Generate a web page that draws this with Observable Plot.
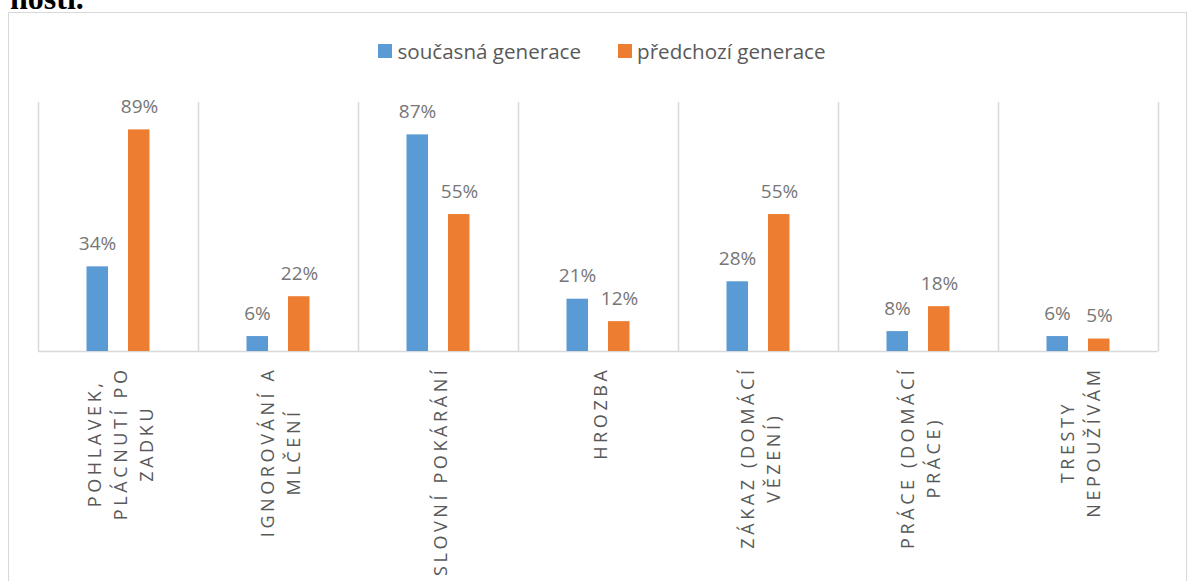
<!DOCTYPE html>
<html>
<head>
<meta charset="utf-8">
<script src="https://cdn.jsdelivr.net/npm/d3@7"></script>
<script src="https://cdn.jsdelivr.net/npm/@observablehq/plot@0.6"></script>
<style>
  html, body { margin: 0; padding: 0; background: #fff; overflow: hidden; width: 1188px; height: 581px; }
  #title { position: absolute; left: 10px; top: -17px; font: bold 32px "Liberation Serif", serif; line-height: 30px; color: #000; }
  #frame { position: absolute; left: 8px; top: 12px; width: 1179px; height: 620px; border: 1.5px solid #d9d9d9; box-sizing: border-box; }
  #legend { position: absolute; top: 38px; left: 8px; width: 1188px; height: 26px; display: flex; justify-content: center; align-items: center; gap: 37px; font: 20.6px "Open Sans", sans-serif; color: #595959; }
  #legend .item { display: flex; align-items: center; }
  #legend .sw { width: 14px; height: 14px; margin-right: 5px; }
  #chart { position: absolute; left: 0; top: 70px; }
</style>
</head>
<body>
<div id="title">nosti.</div>
<div id="frame"></div>
<div id="legend"></div>
<div id="chart"></div>
<script>
// ---- data ----
const categories = [
  "POHLAVEK, PLÁCNUTÍ PO ZADKU",
  "IGNOROVÁNÍ A MLČENÍ",
  "SLOVNÍ POKÁRÁNÍ",
  "HROZBA",
  "ZÁKAZ (DOMÁCÍ VĚZENÍ)",
  "PRÁCE (DOMÁCÍ PRÁCE)",
  "TRESTY NEPOUŽÍVÁM"
];
const tickLabels = [
  "POHLAVEK,\nPLÁCNUTÍ PO\nZADKU",
  "IGNOROVÁNÍ A\nMLČENÍ",
  "SLOVNÍ POKÁRÁNÍ",
  "HROZBA",
  "ZÁKAZ (DOMÁCÍ\nVĚZENÍ)",
  "PRÁCE (DOMÁCÍ\nPRÁCE)",
  "TRESTY\nNEPOUŽÍVÁM"
];
const seriesNames = ["současná generace", "předchozí generace"];
const currentGen = [34, 6, 87, 21, 28, 8, 6];
const previousGen = [89, 22, 55, 12, 55, 18, 5];

// ---- styles ----
const seriesColors = ["#5B9BD5", "#ED7D31"];
const gridColor = "#d9d9d9";
const W = 1188, H = 511, ML = 38, MR = 30, MT = 32, MB = 230;
const band = (W - ML - MR) / categories.length;

const rows = categories.map((c, i) => ({category: c, label: tickLabels[i], current: currentGen[i], previous: previousGen[i]}));

// legend
const legend = document.getElementById("legend");
seriesNames.forEach((name, i) => {
  const item = document.createElement("div");
  item.className = "item";
  const sw = document.createElement("div");
  sw.className = "sw";
  sw.style.background = seriesColors[i];
  const t = document.createElement("span");
  t.textContent = name;
  item.appendChild(sw); item.appendChild(t);
  legend.appendChild(item);
});

const chart = Plot.plot({
  width: W, height: H,
  marginLeft: ML, marginRight: MR, marginTop: MT, marginBottom: MB,
  style: {fontFamily: "'Open Sans', sans-serif", background: "transparent", overflow: "visible"},
  x: {domain: categories, padding: 0, axis: null},
  y: {domain: [0, 100], axis: null},
  marks: [
    Plot.ruleX(categories, {x: d => d, dx: -band / 2, y1: 0, y2: 100, stroke: gridColor, strokeWidth: 1.5}),
    Plot.ruleX(categories.slice(-1), {x: d => d, dx: band / 2, y1: 0, y2: 100, stroke: gridColor, strokeWidth: 1.5}),
    Plot.ruleY([0], {stroke: gridColor, strokeWidth: 1.5}),
    Plot.barY(rows, {x: "category", y: "current", fill: seriesColors[0], insetLeft: 48.5, insetRight: 90}),
    Plot.barY(rows, {x: "category", y: "previous", fill: seriesColors[1], insetLeft: 90, insetRight: 48.5}),
    Plot.text(rows, {x: "category", y: "current", text: d => d.current + "%", dx: -21, dy: -23, lineAnchor: "middle", fill: "#767676", fontSize: 19}),
    Plot.text(rows, {x: "category", y: "previous", text: d => d.previous + "%", dx: 21, dy: -23, lineAnchor: "middle", fill: "#767676", fontSize: 19}),
    Plot.text(rows, {x: "category", frameAnchor: "bottom", text: "label", rotate: -90, textAnchor: "middle", lineAnchor: "middle", lineHeight: 1.45, fontSize: 18, fill: "#595959"})
  ]
});
document.getElementById("chart").appendChild(chart);

// center-align wrapped labels, with the longest line starting just below the axis
const textGroups = chart.querySelectorAll('g[aria-label="text"]');
const g = textGroups[textGroups.length - 1];
g.style.letterSpacing = "3.6px";
g.querySelectorAll("text").forEach(t => {
  const w = t.getBBox().width;
  const tr = t.getAttribute("transform");
  t.setAttribute("transform", tr.replace(/translate\(\s*([-\d.e]+)[ ,]+([-\d.e]+)\s*\)/, (m, a, b) => `translate(${a},${+b + 15 + w / 2})`));
});
</script>
</body>
</html>
